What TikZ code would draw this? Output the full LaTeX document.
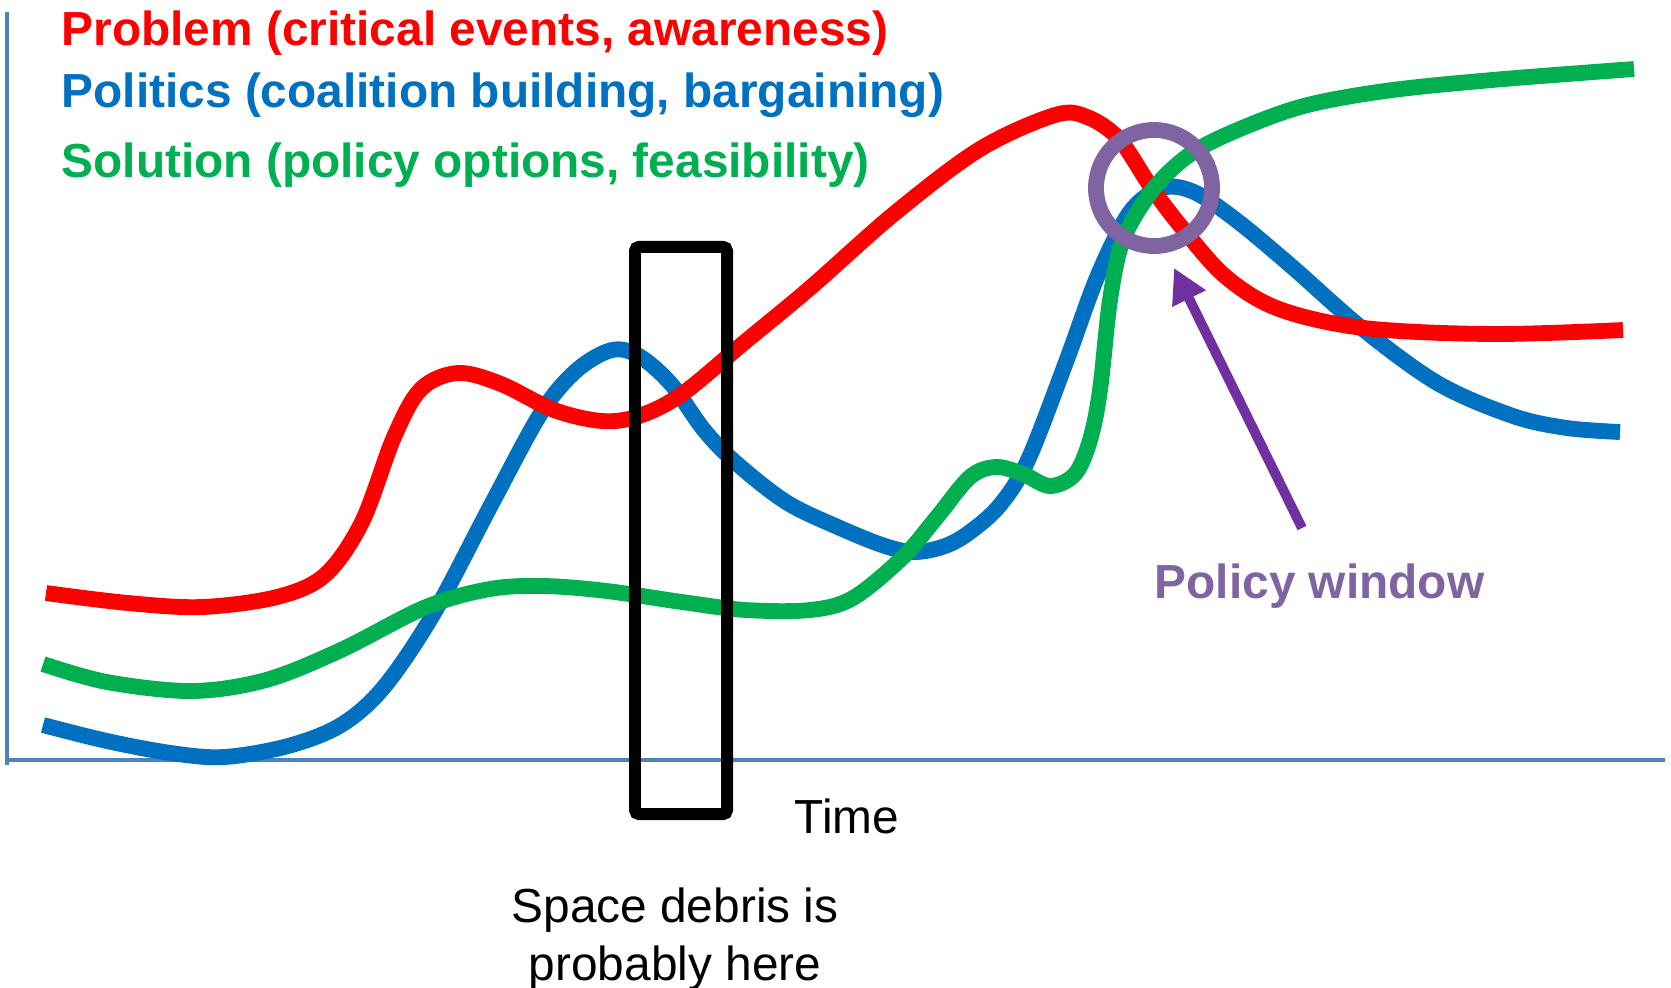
\documentclass[tikz,border=0pt]{standalone}
\usepackage{fontspec}
\setmainfont{Liberation Sans}
\usepackage{tikz}
\usetikzlibrary{arrows.meta,positioning}
\definecolor{probred}{HTML}{FF0000}
\definecolor{polblue}{HTML}{0070C0}
\definecolor{solgreen}{HTML}{00B050}
\definecolor{axisblue}{HTML}{4F81BD}
\definecolor{windowpurple}{HTML}{8064A2}
\definecolor{arrowpurple}{HTML}{7030A0}

\begin{document}
\begin{tikzpicture}[x=0.01cm, y=-0.01cm,
    stream/.style={line width=4.5pt, smooth, tension=0.55},
    legend/.style={anchor=base west, inner sep=0pt, font=\fontsize{13.6}{16}\selectfont\bfseries},
    plain/.style={inner sep=0pt, font=\fontsize{13.6}{16.5}\selectfont}]
    \useasboundingbox (0,0) rectangle (1671,987);

    % Axes
    \draw[axisblue, line width=1.1pt] (7,12) -- (7,765);
    \draw[axisblue, line width=1.1pt] (5,760) -- (1665,760);

    % Politics stream
    \draw[stream, polblue] plot coordinates {(43,725) (107,741) (171,753) (224,757) (288,746)
        (341,725) (384,687) (434,613) (490,507) (541,413) (577,370) (612,350) (639,356)
        (671,384) (704,430) (735,462) (786,502) (840,528) (885,546) (915,552) (945,546)
        (970,532) (1000,505) (1028,460) (1066,362) (1098,275) (1130,212) (1162,188)
        (1194,192) (1236,220) (1290,265) (1364,330) (1439,384) (1513,416) (1567,428) (1620,432)};

    % Problem stream
    \draw[stream, probred] plot coordinates {(46,593) (128,603) (202,607) (277,597) (325,575)
        (362,522) (394,437) (421,389) (458,373) (501,384) (554,410) (602,421) (639,416)
        (682,394) (746,341) (810,288) (895,213) (980,149) (1055,115) (1087,117) (1119,139)
        (1151,187) (1183,229) (1226,277) (1279,309) (1364,328) (1492,334) (1623,330)};

    % Solution stream
    \draw[stream, solgreen] plot coordinates {(43,664) (107,682) (192,691) (266,680) (341,650)
        (426,607) (490,589) (544,586) (607,591) (682,602) (746,610) (810,610) (853,598)
        (903,557) (937,517) (970,477) (996,467) (1023,474) (1050,486) (1075,474) (1090,440)
        (1100,390) (1110,300) (1123,240) (1151,192) (1185,158) (1226,135) (1300,107)
        (1385,91) (1492,80) (1634,69)};

    % Where space debris sits
    \node[draw, line width=3.4pt, rounded corners=1.2pt, minimum width=0.92cm,
        minimum height=5.67cm, inner sep=0pt] (debrisbox) at (681,530.5) {};

    % Policy window
    \node[draw=windowpurple, line width=4.5pt, circle, minimum size=1.16cm, inner sep=0pt] (window) at (1154,188) {};
    \coordinate (tail) at (1302,528);
    \coordinate (tip) at (1174,268);
    \draw[-{Triangle[length=9.7pt,width=10pt]}, arrowpurple, line width=2.8pt] (tail) -- (tip);

    % Labels
    \node[legend, text=probred] (problem) at (61,45) {Problem (critical events, awareness)};
    \node[legend, text=polblue] (politics) at (61,107) {Politics (coalition building, bargaining)};
    \node[legend, text=solgreen] (solution) at (61,177) {Solution (policy options, feasibility)};
    \node[legend, text=windowpurple] (windowlabel) at (1154,598) {Policy window};
    \node[plain, anchor=base west] (time) at (794,833) {Time};
    \node[plain, align=center, anchor=base] (debris) at (675,980) {Space debris is\\probably here};
\end{tikzpicture}
\end{document}
